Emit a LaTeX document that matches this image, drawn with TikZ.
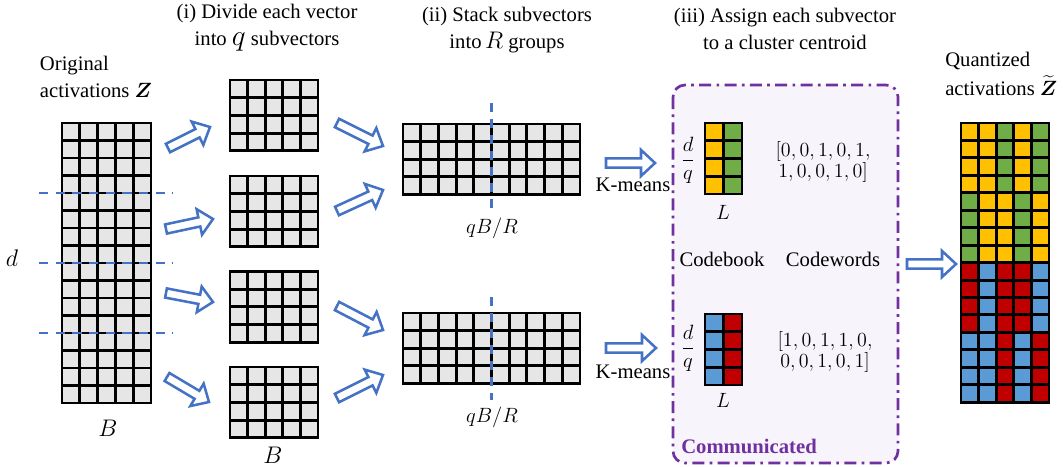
\RequirePackage{fix-cm}
\documentclass[tikz,border=0pt]{standalone}
\usepackage{amsmath}
\usepackage[no-math]{fontspec}
\setmainfont{Liberation Serif}
\usetikzlibrary{calc}

\definecolor{cellgray}{HTML}{E6E6E6}
\definecolor{arrowblue}{HTML}{4472C4}
\definecolor{cyel}{HTML}{FFC000}
\definecolor{cgrn}{HTML}{70AD47}
\definecolor{cblu}{HTML}{5B9BD5}
\definecolor{cred}{HTML}{C00000}
\definecolor{commpurple}{HTML}{7030A0}
\definecolor{commfill}{HTML}{F7F4FB}

\tikzset{
  cell/.style={draw=black, line width=2.2pt},
  lbl/.style={font=\fontsize{15.5}{20}\selectfont, inner sep=0pt},
  biglbl/.style={font=\fontsize{18}{20}\selectfont, inner sep=0pt},
  codes/.style={font=\fontsize{15}{16}\selectfont, inner sep=0pt, align=center},
  split/.style={draw=arrowblue, line width=1.6pt, dash pattern=on 7pt off 5.5pt},
  harrow/.style={draw=arrowblue, fill=white, line width=1.9pt, line join=miter},
  commbox/.style={draw=commpurple, fill=commfill, line width=2pt, rounded corners=9pt,
    dash pattern=on 9pt off 4pt on 2pt off 4pt},
}

% uniform block of cells: x0, y0, columns, rows, cell width, cell height, fill
\newcommand\cellblock[7]{%
  \foreach \ci in {1,...,#3}{\foreach \ri in {1,...,#4}{
    \draw[cell, fill=#7] ({#1+(\ci-1)*#5},{#2+(\ri-1)*#6}) rectangle ++(#5,#6);}}}

% one row of coloured cells: x0, y0, cell width, cell height, colour list
\newcommand\colorrow[5]{%
  \foreach \cc [count=\ci] in {#5}{
    \draw[cell, fill=\cc] ({#1+(\ci-1)*#3},#2) rectangle ++(#3,#4);}}

% hollow block arrow from one named coordinate to another
\newcommand\hollowarrow[2]{%
  \coordinate (hb) at ($(#2)!10.5pt!(#1)$);
  \draw[harrow] ($(#1)!3.5pt!90:(#2)$) -- ($(hb)!3.5pt!90:(#2)$)
    -- ($(hb)!9.8pt!90:(#2)$) -- (#2) -- ($(hb)!9.8pt!-90:(#2)$)
    -- ($(hb)!3.5pt!-90:(#2)$) -- ($(#1)!3.5pt!-90:(#2)$) -- cycle;}

\begin{document}
\begin{tikzpicture}[x=0.75pt, y=-0.75pt]
\useasboundingbox (0,0) rectangle (1063,467);

% ---------- original activations ----------
\node[lbl, align=left] (orig) at (96,77) {Original\\activations $\boldsymbol{Z}$};
\cellblock{62}{123}{5}{16}{17.8}{17.5}{cellgray}
\draw[split] (39,193) -- (173,193);
\draw[split] (39,263) -- (173,263);
\draw[split] (39,333) -- (173,333);
\node[biglbl] (dlab) at (12,258) {$d$};
\node[biglbl] (blab) at (108,428) {$B$};

% ---------- (i) subvectors ----------
\node[lbl, align=center] (t1) at (267,28) {(i) Divide each vector\\into~{\fontsize{22}{20}\selectfont$q$}~subvectors};
\cellblock{230}{80}{5}{4}{17.6}{17.7}{cellgray}
\cellblock{230}{176}{5}{4}{17.6}{17.7}{cellgray}
\cellblock{230}{271.5}{5}{4}{17.6}{17.7}{cellgray}
\cellblock{230}{367}{5}{4}{17.6}{17.7}{cellgray}
\node[biglbl] (blab2) at (273,455) {$B$};

\coordinate (a1s) at (168,148); \coordinate (a1e) at (210,127);
\coordinate (a2s) at (166,229); \coordinate (a2e) at (213,219);
\coordinate (a3s) at (166,293); \coordinate (a3e) at (213,302);
\coordinate (a4s) at (167,377); \coordinate (a4e) at (209,402);
\hollowarrow{a1s}{a1e}
\hollowarrow{a2s}{a2e}
\hollowarrow{a3s}{a3e}
\hollowarrow{a4s}{a4e}

% ---------- (ii) stacked groups ----------
\node[lbl, align=center] (t2) at (507,30) {(ii) Stack subvectors\\into\,{\fontsize{18}{20}\selectfont$R$} groups};
\cellblock{403}{124}{10}{4}{17.7}{17.6}{cellgray}
\cellblock{403}{313}{10}{4}{17.7}{17.6}{cellgray}
\draw[split, dash pattern=on 7pt off 5pt] (491.5,103) -- (491.5,208);
\draw[split, dash pattern=on 7pt off 5pt] (491.5,297) -- (491.5,400);
\node[lbl] (qbr1) at (492,228) {$qB/R$};
\node[lbl] (qbr2) at (492,417) {$qB/R$};

\coordinate (b1s) at (337,123); \coordinate (b1e) at (383,146);
\coordinate (b2s) at (337,211); \coordinate (b2e) at (383,190);
\coordinate (b3s) at (337,306); \coordinate (b3e) at (383,330);
\coordinate (b4s) at (337,398); \coordinate (b4e) at (383,375);
\hollowarrow{b1s}{b1e}
\hollowarrow{b2s}{b2e}
\hollowarrow{b3s}{b3e}
\hollowarrow{b4s}{b4e}

% ---------- (iii) codebooks and codewords ----------
\node[lbl, align=center] (t3) at (785,29) {(iii) Assign each subvector\\to a cluster centroid};
\draw[commbox] (673,85) rectangle (898,463);

\foreach \ry in {123,140.75,158.5,176.25}{\colorrow{705}{\ry}{18.5}{17.75}{cyel,cgrn}}
\foreach \ry in {314,331.75,349.5,367.25}{\colorrow{705}{\ry}{18.5}{17.75}{cblu,cred}}

\node[lbl] (dq1) at (688,160) {$\dfrac{d}{q}$};
\node[lbl] (dq2) at (688,348) {$\dfrac{d}{q}$};
\node[lbl] (l1) at (723,212) {$L$};
\node[lbl] (l2) at (723,400) {$L$};
\node[codes] (cw1) at (823,162) {$[0,0,1,0,1,$\\$1,0,0,1,0]$};
\node[codes] (cw2) at (825,352) {$[1,0,1,1,0,$\\$0,0,1,0,1]$};
\node[lbl] (cb) at (722,259) {Codebook};
\node[lbl] (cws) at (833,259) {Codewords};
\node[lbl, anchor=west, text=commpurple, font=\fontsize{15.5}{20}\selectfont\bfseries] (comm) at (681,446) {Communicated};

\node[lbl] (km1) at (633,185) {K-means};
\node[lbl] (km2) at (633,372) {K-means};
\coordinate (k1s) at (606,163); \coordinate (k1e) at (655,163);
\coordinate (k2s) at (606,348); \coordinate (k2e) at (656,348);
\hollowarrow{k1s}{k1e}
\hollowarrow{k2s}{k2e}

% ---------- quantized activations ----------
\node[lbl, anchor=base west] (quant1) at (945,67) {Quantized};
\node[lbl, anchor=base west] (quant2) at (945,95) {activations $\widetilde{\boldsymbol{Z}}$};
\foreach \k in {0,...,3}{\colorrow{961}{123+\k*17.45}{17.6}{17.45}{cyel,cyel,cgrn,cyel,cgrn}}
\foreach \k in {4,...,7}{\colorrow{961}{123+\k*17.45}{17.6}{17.45}{cgrn,cyel,cyel,cgrn,cyel}}
\foreach \k in {8,...,11}{\colorrow{961}{123+\k*17.45}{17.6}{17.45}{cred,cblu,cred,cred,cblu}}
\foreach \k in {12,...,15}{\colorrow{961}{123+\k*17.45}{17.6}{17.45}{cblu,cblu,cred,cblu,cred}}
\coordinate (qs) at (907,264); \coordinate (qe) at (956,264);
\hollowarrow{qs}{qe}
\end{tikzpicture}
\end{document}
